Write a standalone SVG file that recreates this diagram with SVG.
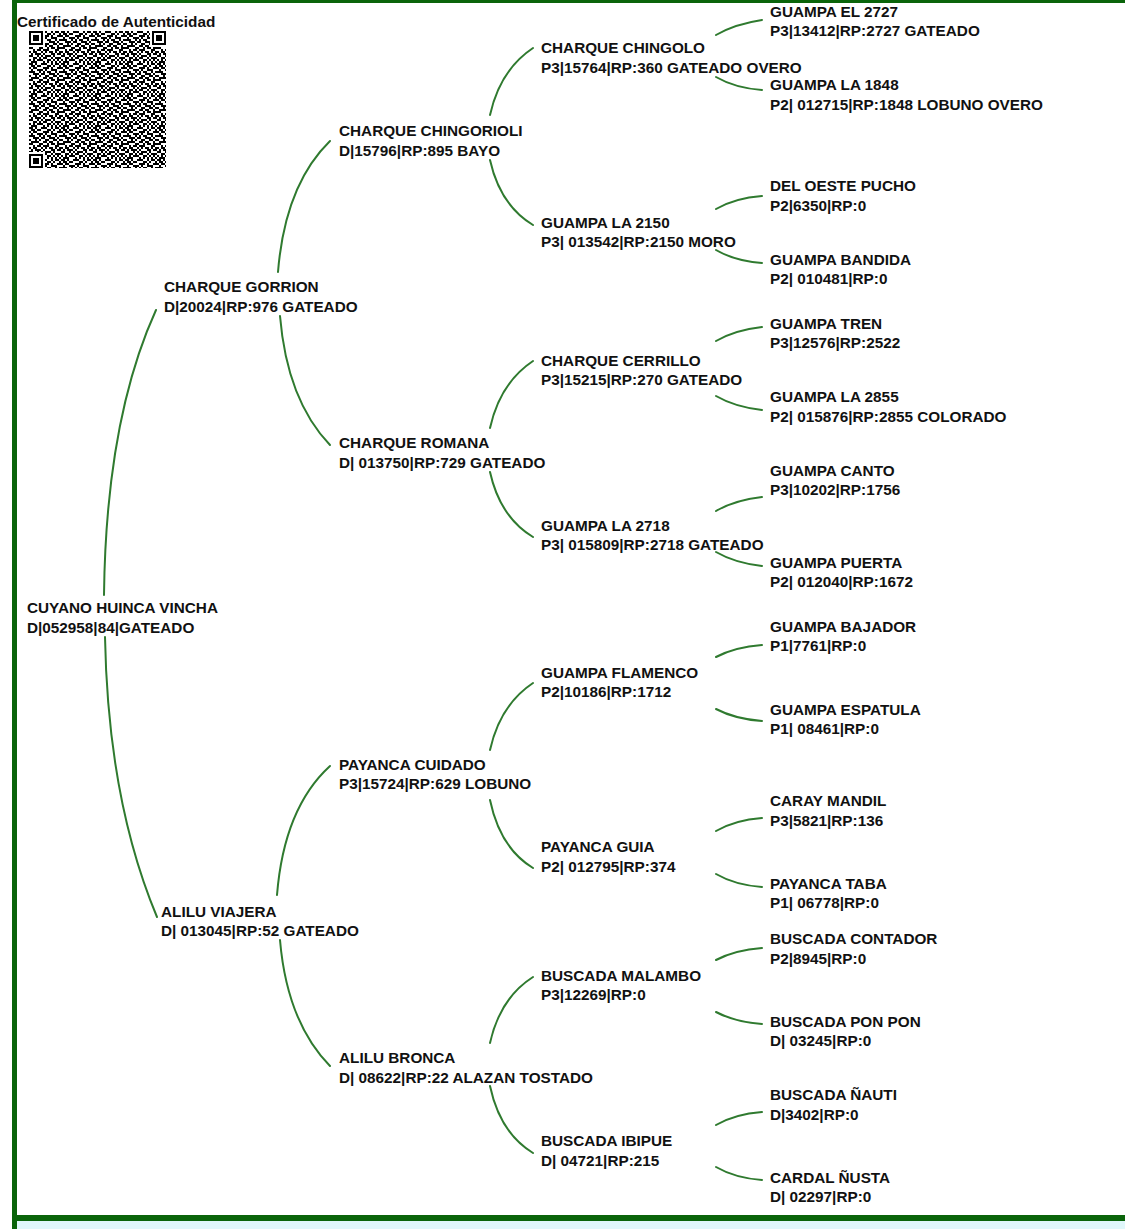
<svg xmlns="http://www.w3.org/2000/svg" width="1125" height="1229" viewBox="0 0 1125 1229">
<style>
.t{font-family:"Liberation Sans",Arial,sans-serif;font-weight:bold;font-size:15.3px;fill:#111}
.c{fill:none;stroke:#2f7a2f;stroke-width:2;stroke-linecap:round}
.qr{fill:none;stroke:#000;stroke-width:2}
</style>
<defs>
<pattern id="qrp" x="29" y="31" width="32" height="32" patternUnits="userSpaceOnUse">
<path class="qr" d="M0 1h4M6 1h2M12 1h6M22 1h2M26 1h4M2 3h4M8 3h4M18 3h4M24 3h2M30 3h2M0 5h2M4 5h4M14 5h6M22 5h2M28 5h4M2 7h2M8 7h6M16 7h2M22 7h6M0 9h6M10 9h2M14 9h2M18 9h4M26 9h2M30 9h2M4 11h6M12 11h4M20 11h6M28 11h2M0 13h2M6 13h2M10 13h2M16 13h4M24 13h4M30 13h2M2 15h8M14 15h4M20 15h4M28 15h2M0 17h4M10 17h4M18 17h2M22 17h4M28 17h4M4 19h2M8 19h4M14 19h6M26 19h4M0 21h2M4 21h4M12 21h2M16 21h2M20 21h4M26 21h2M30 21h2M2 23h2M6 23h6M14 23h2M22 23h4M28 23h4M0 25h4M8 25h2M12 25h2M16 25h6M24 25h2M4 27h4M10 27h2M14 27h4M22 27h2M26 27h6M0 29h2M4 29h2M8 29h6M18 29h4M24 29h2M28 29h2M2 31h6M14 31h2M18 31h2M22 31h2M26 31h2M30 31h2"/>
</pattern>
</defs>
<rect x="0" y="0" width="1125" height="1229" fill="#fff"/>
<rect x="17" y="1221" width="1108" height="8" fill="#e0f7fb"/>
<g id="frame" fill="#0a640a">
<rect x="12" y="0" width="5" height="1229"/>
<rect x="12" y="0" width="1113" height="3"/>
<rect x="12" y="1215" width="1113" height="6"/>
</g>
<g id="certificate">
<text class="t" x="17" y="26.5">Certificado de Autenticidad</text>
<rect x="29" y="31" width="137" height="137" fill="url(#qrp)"/>
<g fill="#fff"><rect x="29" y="31" width="16" height="16"/><rect x="150" y="31" width="16" height="16"/><rect x="29" y="152" width="16" height="16"/></g>
<g fill="#000"><rect x="29" y="31" width="14" height="14"/><rect x="152" y="31" width="14" height="14"/><rect x="29" y="154" width="14" height="14"/></g>
<g fill="#fff"><rect x="31" y="33" width="10" height="10"/><rect x="154" y="33" width="10" height="10"/><rect x="31" y="156" width="10" height="10"/></g>
<g fill="#000"><rect x="33" y="35" width="6" height="6"/><rect x="156" y="35" width="6" height="6"/><rect x="33" y="158" width="6" height="6"/></g>
</g>
<g id="connectors">
<path class="c" d="M104 595Q106 420 156 310"/>
<path class="c" d="M105 637Q108 800 157 917"/>
<path class="c" d="M278 272Q285 185 330 141"/>
<path class="c" d="M280 316Q287 400 330 445"/>
<path class="c" d="M277 895Q284 808 330 766"/>
<path class="c" d="M280 940Q287 1022 330 1066"/>
<path class="c" d="M490 115Q500 70 533 48"/>
<path class="c" d="M490 160Q500 205 533 225"/>
<path class="c" d="M490 428Q500 383 533 361"/>
<path class="c" d="M490 472Q500 517 533 537"/>
<path class="c" d="M490 750Q500 705 533 683"/>
<path class="c" d="M490 800Q500 848 533 868"/>
<path class="c" d="M490 1043Q500 998 533 977"/>
<path class="c" d="M490 1086Q500 1133 533 1153"/>
<path class="c" d="M716 35Q735 24 762 20"/>
<path class="c" d="M716 77Q735 88 762 90"/>
<path class="c" d="M716 209Q735 198 762 196"/>
<path class="c" d="M716 250Q735 261 762 263"/>
<path class="c" d="M716 341Q735 330 762 327"/>
<path class="c" d="M716 396Q735 407 762 410"/>
<path class="c" d="M716 511Q735 500 762 497"/>
<path class="c" d="M716 552Q735 563 762 566"/>
<path class="c" d="M716 657Q735 647 762 645"/>
<path class="c" d="M716 709Q735 719 762 721"/>
<path class="c" d="M716 831Q735 820 762 818"/>
<path class="c" d="M716 874Q735 885 762 887"/>
<path class="c" d="M716 960Q735 950 762 948"/>
<path class="c" d="M716 1012Q735 1022 762 1024"/>
<path class="c" d="M716 1125Q735 1114 762 1112"/>
<path class="c" d="M716 1167Q735 1178 762 1180"/>
</g>
<g id="n0"><text class="t"><tspan x="27" y="612.5">CUYANO HUINCA VINCHA</tspan><tspan x="27" y="632.5">D|052958|84|GATEADO</tspan></text></g>
<g id="n1"><text class="t"><tspan x="164" y="291.5">CHARQUE GORRION</tspan><tspan x="164" y="311.5">D|20024|RP:976 GATEADO</tspan></text></g>
<g id="n2"><text class="t"><tspan x="161" y="916.5">ALILU VIAJERA</tspan><tspan x="161" y="935.5">D| 013045|RP:52 GATEADO</tspan></text></g>
<g id="n3"><text class="t"><tspan x="339" y="135.5">CHARQUE CHINGORIOLI</tspan><tspan x="339" y="155.5">D|15796|RP:895 BAYO</tspan></text></g>
<g id="n4"><text class="t"><tspan x="339" y="447.5">CHARQUE ROMANA</tspan><tspan x="339" y="467.5">D| 013750|RP:729 GATEADO</tspan></text></g>
<g id="n5"><text class="t"><tspan x="339" y="769.5">PAYANCA CUIDADO</tspan><tspan x="339" y="788.5">P3|15724|RP:629 LOBUNO</tspan></text></g>
<g id="n6"><text class="t"><tspan x="339" y="1062.5">ALILU BRONCA</tspan><tspan x="339" y="1082.5">D| 08622|RP:22 ALAZAN TOSTADO</tspan></text></g>
<g id="n7"><text class="t"><tspan x="541" y="52.5">CHARQUE CHINGOLO</tspan><tspan x="541" y="72.5">P3|15764|RP:360 GATEADO OVERO</tspan></text></g>
<g id="n8"><text class="t"><tspan x="541" y="227.5">GUAMPA LA 2150</tspan><tspan x="541" y="246.5">P3| 013542|RP:2150 MORO</tspan></text></g>
<g id="n9"><text class="t"><tspan x="541" y="365.5">CHARQUE CERRILLO</tspan><tspan x="541" y="384.5">P3|15215|RP:270 GATEADO</tspan></text></g>
<g id="n10"><text class="t"><tspan x="541" y="530.5">GUAMPA LA 2718</tspan><tspan x="541" y="549.5">P3| 015809|RP:2718 GATEADO</tspan></text></g>
<g id="n11"><text class="t"><tspan x="541" y="677.5">GUAMPA FLAMENCO</tspan><tspan x="541" y="696.5">P2|10186|RP:1712</tspan></text></g>
<g id="n12"><text class="t"><tspan x="541" y="851.5">PAYANCA GUIA</tspan><tspan x="541" y="871.5">P2| 012795|RP:374</tspan></text></g>
<g id="n13"><text class="t"><tspan x="541" y="980.5">BUSCADA MALAMBO</tspan><tspan x="541" y="999.5">P3|12269|RP:0</tspan></text></g>
<g id="n14"><text class="t"><tspan x="541" y="1145.5">BUSCADA IBIPUE</tspan><tspan x="541" y="1165.5">D| 04721|RP:215</tspan></text></g>
<g id="n15"><text class="t"><tspan x="770" y="16.5">GUAMPA EL 2727</tspan><tspan x="770" y="35.5">P3|13412|RP:2727 GATEADO</tspan></text></g>
<g id="n16"><text class="t"><tspan x="770" y="89.5">GUAMPA LA 1848</tspan><tspan x="770" y="109.5">P2| 012715|RP:1848 LOBUNO OVERO</tspan></text></g>
<g id="n17"><text class="t"><tspan x="770" y="190.5">DEL OESTE PUCHO</tspan><tspan x="770" y="210.5">P2|6350|RP:0</tspan></text></g>
<g id="n18"><text class="t"><tspan x="770" y="264.5">GUAMPA BANDIDA</tspan><tspan x="770" y="283.5">P2| 010481|RP:0</tspan></text></g>
<g id="n19"><text class="t"><tspan x="770" y="328.5">GUAMPA TREN</tspan><tspan x="770" y="347.5">P3|12576|RP:2522</tspan></text></g>
<g id="n20"><text class="t"><tspan x="770" y="401.5">GUAMPA LA 2855</tspan><tspan x="770" y="421.5">P2| 015876|RP:2855 COLORADO</tspan></text></g>
<g id="n21"><text class="t"><tspan x="770" y="475.5">GUAMPA CANTO</tspan><tspan x="770" y="494.5">P3|10202|RP:1756</tspan></text></g>
<g id="n22"><text class="t"><tspan x="770" y="567.5">GUAMPA PUERTA</tspan><tspan x="770" y="586.5">P2| 012040|RP:1672</tspan></text></g>
<g id="n23"><text class="t"><tspan x="770" y="631.5">GUAMPA BAJADOR</tspan><tspan x="770" y="650.5">P1|7761|RP:0</tspan></text></g>
<g id="n24"><text class="t"><tspan x="770" y="714.5">GUAMPA ESPATULA</tspan><tspan x="770" y="733.5">P1| 08461|RP:0</tspan></text></g>
<g id="n25"><text class="t"><tspan x="770" y="805.5">CARAY MANDIL</tspan><tspan x="770" y="825.5">P3|5821|RP:136</tspan></text></g>
<g id="n26"><text class="t"><tspan x="770" y="888.5">PAYANCA TABA</tspan><tspan x="770" y="907.5">P1| 06778|RP:0</tspan></text></g>
<g id="n27"><text class="t"><tspan x="770" y="943.5">BUSCADA CONTADOR</tspan><tspan x="770" y="963.5">P2|8945|RP:0</tspan></text></g>
<g id="n28"><text class="t"><tspan x="770" y="1026.5">BUSCADA PON PON</tspan><tspan x="770" y="1045.5">D| 03245|RP:0</tspan></text></g>
<g id="n29"><text class="t"><tspan x="770" y="1099.5">BUSCADA ÑAUTI</tspan><tspan x="770" y="1119.5">D|3402|RP:0</tspan></text></g>
<g id="n30"><text class="t"><tspan x="770" y="1182.5">CARDAL ÑUSTA</tspan><tspan x="770" y="1201.5">D| 02297|RP:0</tspan></text></g>
</svg>
